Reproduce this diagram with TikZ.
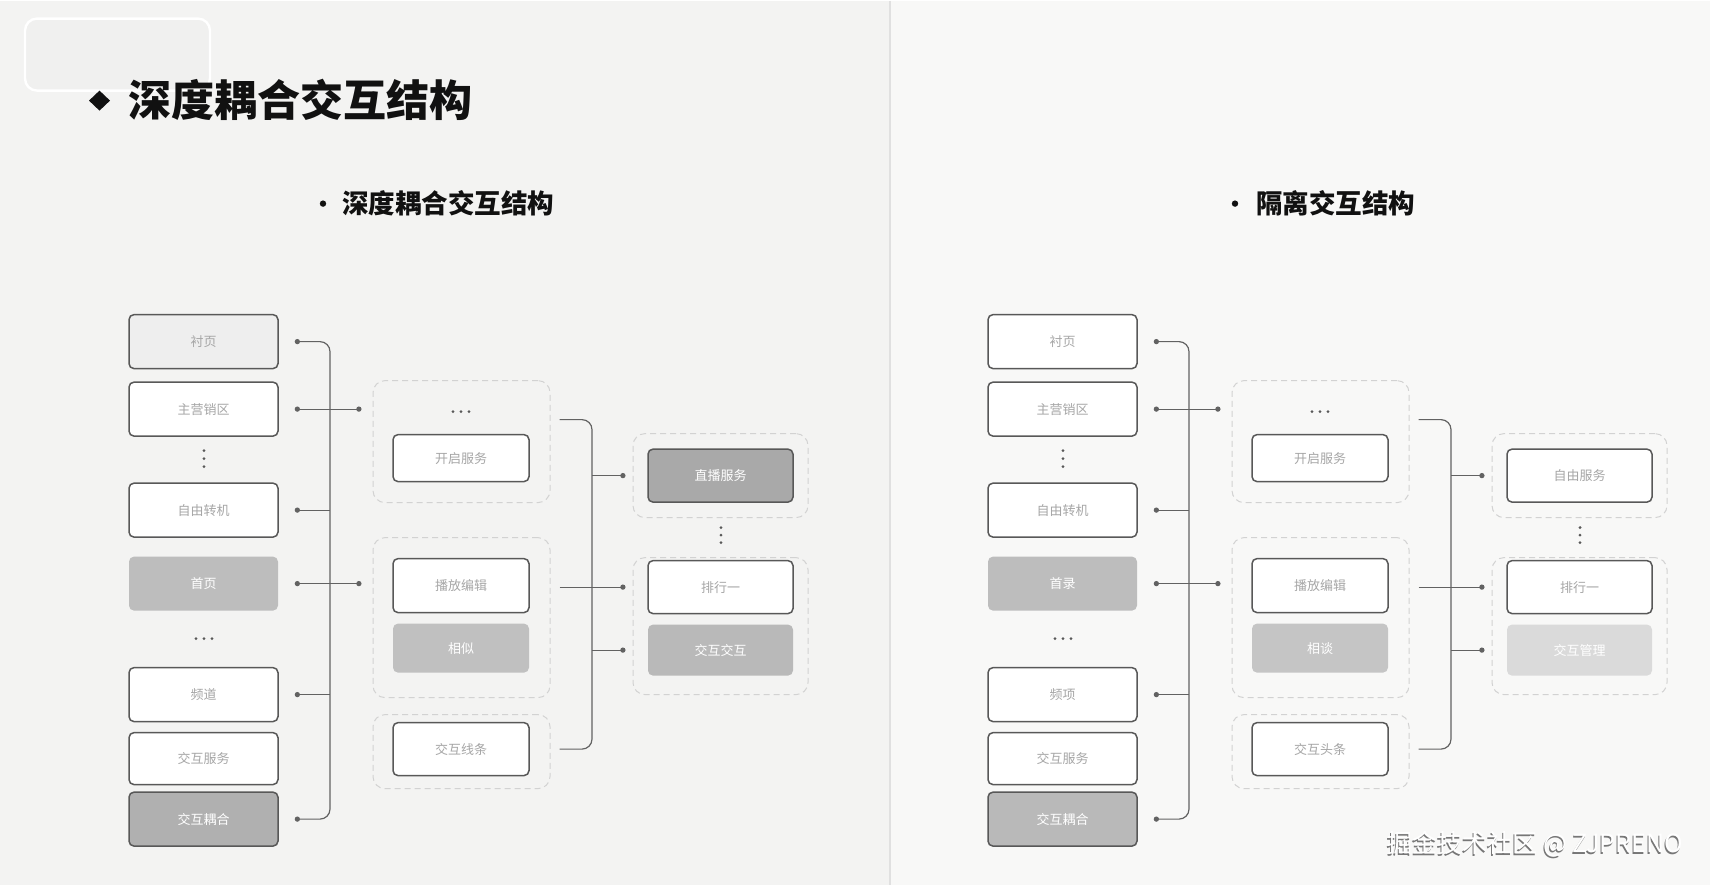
\documentclass[tikz,border=0pt]{standalone}
\usepackage{fontspec}
\newfontfamily\cjk{Noto Sans CJK SC}
\usetikzlibrary{arrows.meta,calc}

\definecolor{paneL}{HTML}{F3F3F2}
\definecolor{paneR}{HTML}{F8F8F7}
\definecolor{rulec}{HTML}{E0E0E0}
\definecolor{ink}{HTML}{111111}
\definecolor{edgec}{HTML}{585858}
\definecolor{wirec}{HTML}{626262}
\definecolor{labelc}{HTML}{A6A6A6}
\definecolor{dashc}{HTML}{D2D2D2}
\definecolor{ghostc}{HTML}{F0F0EF}
\definecolor{greyA}{HTML}{EEEEEE}
\definecolor{greyB}{HTML}{BDBDBD}
\definecolor{greyC}{HTML}{B0B0B0}
\definecolor{greyD}{HTML}{C0C0C0}
\definecolor{greyE}{HTML}{A9A9A9}
\definecolor{greyF}{HTML}{B9B9B9}
\definecolor{greyG}{HTML}{C5C5C5}
\definecolor{greyH}{HTML}{DADADA}
\definecolor{markc}{HTML}{777777}

\tikzset{
  cell/.style={draw=edgec, line width=0.75pt, rounded corners=2.5pt, fill=white,
    inner sep=0pt, text=labelc, font=\cjk\fontsize{6.5pt}{8pt}\selectfont},
  lcell/.style={cell, minimum width=74.5pt, minimum height=27pt},
  mcell/.style={cell, minimum width=68pt, minimum height=26pt},
  rcell/.style={cell, minimum width=72.5pt, minimum height=26.5pt},
  solidgrey/.style={fill=#1, draw=none, text=white},
  framedgrey/.style={fill=#1, text=white},
  group/.style={draw=dashc, line width=0.5pt, dash pattern=on 3pt off 2pt,
    rounded corners=6pt, inner sep=0pt},
  wire/.style={draw=wirec, line width=0.6pt},
  link/.style={wire, {Circle[length=2.6pt]}-{Circle[length=2.6pt]}},
  feed/.style={wire, {Circle[length=2.6pt]}-},
  push/.style={wire, -{Circle[length=2.6pt]}},
  pip/.style={fill=edgec}
}

% One structure diagram: input column, grouped middle stage, output column
\newcommand{\drawpanel}[1]{%
  % input column
  \node[lcell, fA] (#1a) at (203.5,341) {\txtA};
  \node[lcell] (#1b) at (203.5,408.5) {\txtB};
  \node[lcell] (#1c) at (203.5,509.5) {\txtC};
  \node[lcell, fD] (#1d) at (203.5,583) {\txtD};
  \node[lcell] (#1e) at (203.5,694) {\txtE};
  \node[lcell, minimum height=26pt] (#1f) at (203.5,758) {\txtF};
  \node[lcell, fG] (#1g) at (203.5,818.5) {\txtG};
  \foreach \yy in {450,458,466} \fill[pip] (204,\yy) circle (0.8pt);
  \foreach \xx in {196,204,212} \fill[pip] (\xx,638) circle (0.8pt);
  % middle groups
  \node[group, minimum width=88.5pt, minimum height=61pt] (#1G1) at (461.5,441) {};
  \node[group, minimum width=88.5pt, minimum height=80pt] (#1G2) at (461.5,617) {};
  \node[group, minimum width=88.5pt, minimum height=37pt] (#1G3) at (461.5,751) {};
  \foreach \xx in {453,461,469} \fill[pip] (\xx,411) circle (0.8pt);
  \node[mcell, minimum height=23.5pt] (#1p) at (461,457.5) {\txtP};
  \node[mcell, minimum height=27pt] (#1q) at (461,585) {\txtQ};
  \node[mcell, fR, minimum height=24.5pt] (#1r) at (461,647.5) {\txtR};
  \node[mcell, minimum height=26.5pt] (#1s) at (461,748.5) {\txtS};
  % output groups
  \node[group, minimum width=87.5pt, minimum height=42pt] (#1H1) at (720.5,475) {};
  \node[group, minimum width=87.5pt, minimum height=68.5pt] (#1H2) at (720.5,625.5) {};
  \node[rcell, fU] (#1u) at (720.5,475) {\txtU};
  \foreach \yy in {527,534.5,542} \fill[pip] (721,\yy) circle (0.8pt);
  \node[rcell] (#1v) at (720.5,586.5) {\txtV};
  \node[rcell, fW, minimum height=25.5pt] (#1w) at (720.5,649.5) {\txtW};
  % connector ports beside the input column
  \foreach \n in {a,b,c,d,e,g} \coordinate (#1\n-o) at ($(#1\n.east)+(16,0)$);
  \coordinate (#1bus) at (330,0);
  \coordinate (#1bus2) at (592,0);
  % first bracket
  \draw[link, rounded corners=5pt] (#1a-o) -- (#1a-o -| #1bus) -- (#1g-o -| #1bus) -- (#1g-o);
  \draw[feed] (#1c-o) -- (#1c-o -| #1bus);
  \draw[feed] (#1e-o) -- (#1e-o -| #1bus);
  \draw[link] (#1b-o) -- ($(#1b-o -| #1G1.west)+(-11,0)$);
  \draw[link] (#1d-o) -- ($(#1d-o -| #1G2.west)+(-11,0)$);
  % second bracket
  \coordinate (#1s1) at ($(#1G1.east)+(9,-22)$);
  \coordinate (#1s2) at ($(#1v.center -| #1G2.east)+(9,0)$);
  \coordinate (#1s3) at ($(#1s.east -| #1G3.east)+(9,0)$);
  \draw[wire, rounded corners=5pt] (#1s1) -- (#1s1 -| #1bus2) -- (#1s3 -| #1bus2) -- (#1s3);
  \draw[push] (#1s2) -- ($(#1v.center -| #1H2.west)+(-7,0)$);
  \draw[push] (#1u.center -| #1bus2) -- ($(#1u.center -| #1H1.west)+(-7,0)$);
  \draw[push] (#1w.center -| #1bus2) -- ($(#1w.center -| #1H2.west)+(-7,0)$);
}

\begin{document}
\begin{tikzpicture}[x=0.5pt,y=-0.5pt]
  % backdrop
  \fill[paneL] (0,0) rectangle (890,884);
  \fill[paneR] (890,0) rectangle (1710,884);
  \draw[rulec, line width=0.6pt] (890,0) -- (890,884);
  \useasboundingbox (0,0) rectangle (1710,884);

  % faint tab in the corner
  \draw[white, line width=1.2pt, fill=ghostc, rounded corners=6pt] (25,18) rectangle (210,90);

  % heading
  \fill[ink] (89,100) -- (99.5,90) -- (110,100) -- (99.5,110) -- cycle;
  \node[anchor=west, inner sep=0pt, text=ink,
    font=\cjk\bfseries\fontsize{21.5pt}{24pt}\selectfont] (title) at (128,99)
    {深度耦合交互结构};

  % panel captions
  \fill[ink] (323,203) circle (1.6pt);
  \node[anchor=west, inner sep=0pt, text=ink,
    font=\cjk\bfseries\fontsize{13.25pt}{15pt}\selectfont] (capL) at (342,203) {深度耦合交互结构};
  \fill[ink] (1235,203) circle (1.6pt);
  \node[anchor=west, inner sep=0pt, text=ink,
    font=\cjk\bfseries\fontsize{13.25pt}{15pt}\selectfont] (capR) at (1256,203) {隔离交互结构};

  % coupled structure
  \begin{scope}[fA/.style={fill=greyA}, fD/.style={solidgrey=greyB},
      fG/.style={framedgrey=greyC}, fR/.style={solidgrey=greyD},
      fU/.style={framedgrey=greyE}, fW/.style={solidgrey=greyF}]
    \def\txtA{衬页}\def\txtB{主营销区}\def\txtC{自由转机}\def\txtD{首页}
    \def\txtE{频道}\def\txtF{交互服务}\def\txtG{交互耦合}
    \def\txtP{开启服务}\def\txtQ{播放编辑}\def\txtR{相似}\def\txtS{交互线条}
    \def\txtU{直播服务}\def\txtV{排行一}\def\txtW{交互交互}
    \drawpanel{L}
  \end{scope}

  % isolated structure
  \begin{scope}[xshift=429.5pt, fA/.style={}, fD/.style={solidgrey=greyB},
      fG/.style={framedgrey=greyF}, fR/.style={solidgrey=greyG},
      fU/.style={}, fW/.style={solidgrey=greyH}]
    \def\txtA{衬页}\def\txtB{主营销区}\def\txtC{自由转机}\def\txtD{首录}
    \def\txtE{频项}\def\txtF{交互服务}\def\txtG{交互耦合}
    \def\txtP{开启服务}\def\txtQ{播放编辑}\def\txtR{相谈}\def\txtS{交互头条}
    \def\txtU{自由服务}\def\txtV{排行一}\def\txtW{交互管理}
    \drawpanel{R}
  \end{scope}

  % watermark
  \node[anchor=west, inner sep=0pt, text=markc,
    font=\cjk\fontsize{12.5pt}{14pt}\selectfont] (markShade) at (1386,845) {掘金技术社区 @ ZJPRENO};
  \node[anchor=west, inner sep=0pt, text=white,
    font=\cjk\fontsize{12.5pt}{14pt}\selectfont] (mark) at (1387,843.5) {掘金技术社区 @ ZJPRENO};
\end{tikzpicture}
\end{document}
